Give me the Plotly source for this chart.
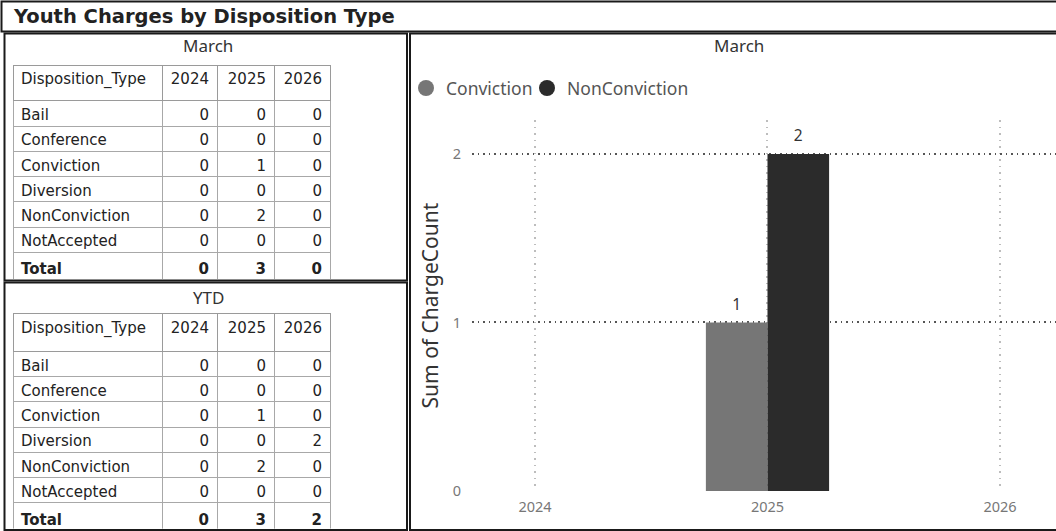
import plotly.graph_objects as go

# ---------------- data ----------------
disposition_types = ["Bail", "Conference", "Conviction", "Diversion", "NonConviction", "NotAccepted"]
years = ["2024", "2025", "2026"]

march_2024 = [0, 0, 0, 0, 0, 0]
march_2025 = [0, 0, 1, 0, 2, 0]
march_2026 = [0, 0, 0, 0, 0, 0]

ytd_2024 = [0, 0, 0, 0, 0, 0]
ytd_2025 = [0, 0, 1, 0, 2, 0]
ytd_2026 = [0, 0, 0, 2, 0, 0]

chart_series = ["Conviction", "NonConviction"]
chart_colors = ["#767676", "#2b2b2b"]

# ---------------- geometry helpers ----------------
W, H = 1056, 531
H_FIG = 541
S = H_FIG / H
def px(x):
    return x / W
def py(y):
    return 1 - y / H

TABLE_FONT = "DejaVu Sans"
CHART_FONT = "Noto Sans"

fig = go.Figure()

def add_table(cols, y_top, y_bottom, header_h):
    header_vals = ["Disposition_Type"] + years
    first = disposition_types + ["<b>Total</b>"]
    cells = [first]
    for c in cols:
        cells.append([str(v) for v in c] + ["<b>%d</b>" % sum(c)])
    fig.add_trace(go.Table(
        domain=dict(x=[px(13), px(330)], y=[py(y_bottom), py(y_top)]),
        columnwidth=[149, 55, 57, 56],
        header=dict(values=header_vals, height=header_h * S,
                    align=["left", "right", "right", "right"],
                    fill_color="white", line=dict(color="#9a9a9a", width=1),
                    font=dict(family=TABLE_FONT, size=15, color="#222222")),
        cells=dict(values=cells, height=24.8 * S,
                   align=["left", "right", "right", "right"],
                   fill_color="white", line=dict(color="#a8a8a8", width=1),
                   font=dict(family=TABLE_FONT, size=15, color="#222222")),
    ))

add_table([march_2024, march_2025, march_2026], 65, 279, 35)
add_table([ytd_2024, ytd_2025, ytd_2026], 313, 528.5, 37)

# ---------------- bar chart (March) ----------------
conv_idx = disposition_types.index("Conviction")
nonconv_idx = disposition_types.index("NonConviction")
march_cols = [march_2024, march_2025, march_2026]
series_vals = {
    "Conviction": [c[conv_idx] for c in march_cols],
    "NonConviction": [c[nonconv_idx] for c in march_cols],
}

def bar_label(v):
    if not v:
        return ""
    return ("<span style='font-size:15.5px'>%d</span><br>"
            "<span style='color:rgba(0,0,0,0)'>.</span>" % v)

legend_ids = ["legend", "legend2"]
for name, color in zip(chart_series, chart_colors):
    vals = series_vals[name]
    fig.add_trace(go.Bar(
        x=years, y=vals, name=name, marker=dict(color=color, line=dict(width=0)),
        text=[bar_label(v) for v in vals], textposition="outside",
        textfont=dict(family=CHART_FONT, size=6, color="#333333"),
        cliponaxis=False, showlegend=False, hoverinfo="skip",
    ))
# legend entries as circles (one legend box per entry for Power BI-like spacing)
for name, color, lid in zip(chart_series, chart_colors, legend_ids):
    fig.add_trace(go.Scatter(
        x=[None], y=[None], mode="markers", name=name, legend=lid,
        marker=dict(color=color, size=16, symbol="circle"), showlegend=True,
    ))

legend_style = dict(orientation="h", xanchor="left", yanchor="top",
                    font=dict(family=CHART_FONT, size=17.5, color="#555555"),
                    itemwidth=30, bgcolor="rgba(0,0,0,0)")

fig.update_layout(
    width=W, height=H_FIG, autosize=False, margin=dict(l=0, r=0, t=0, b=0),
    paper_bgcolor="white", plot_bgcolor="white",
    barmode="group", bargap=0.47, bargroupgap=0,
    showlegend=True,
    legend=dict(x=px(406), y=py(70), **legend_style),
    legend2=dict(x=px(527), y=py(70), **legend_style),
    xaxis=dict(domain=[px(472), 1.0], type="category", categoryorder="array",
               categoryarray=years, range=[-0.271, 2.241],
               showgrid=True, gridcolor="#bdbdbd", griddash="1.5px,5px", gridwidth=1.5,
               zeroline=False, showline=False, ticks="",
               tickfont=dict(family=CHART_FONT, size=14.5, color="#777777"),
               ticklabelstandoff=6),
    yaxis=dict(domain=[py(490), py(120)], range=[0, 2.2], dtick=1, tick0=0,
               showgrid=True, gridcolor="#555555", griddash="1.5px,4px", gridwidth=1.5,
               zeroline=False, showline=False, ticks="",
               tickfont=dict(family=CHART_FONT, size=14.5, color="#777777"),
               ticklabelstandoff=10,
               title=dict(text="Sum of ChargeCount", standoff=8,
                          font=dict(family=CHART_FONT, size=21, color="#333333"))),
)

# ---------------- text ----------------
fig.add_annotation(x=px(11), y=py(16), xref="paper", yref="paper", xanchor="left", yanchor="middle",
                   text="<b>Youth Charges by Disposition Type</b>", showarrow=False,
                   font=dict(family=TABLE_FONT, size=19.5, color="#222222"))
fig.add_annotation(x=px(208), y=py(45), xref="paper", yref="paper", xanchor="center", yanchor="middle",
                   text="March", showarrow=False, font=dict(family=CHART_FONT, size=17, color="#333333"))
fig.add_annotation(x=px(208), y=py(297), xref="paper", yref="paper", xanchor="center", yanchor="middle",
                   text="YTD", showarrow=False, font=dict(family=CHART_FONT, size=17, color="#333333"))
fig.add_annotation(x=px(739), y=py(45), xref="paper", yref="paper", xanchor="center", yanchor="middle",
                   text="March", showarrow=False, font=dict(family=CHART_FONT, size=17, color="#333333"))

# ---------------- panel frames ----------------
def frame(x0, y0, x1, y1):
    fig.add_shape(type="rect", xref="paper", yref="paper",
                  x0=px(x0), y0=py(y1), x1=px(x1), y1=py(y0),
                  line=dict(color="#1a1a1a", width=2), fillcolor="rgba(0,0,0,0)", layer="above")

frame(1.5, 1.5, 1070, 31.5)
frame(4.5, 33.5, 407, 280)
frame(4.5, 282, 407, 529)
frame(410, 33.5, 1070, 529)

fig.write_html("out.html",
               config={"displayModeBar": False, "responsive": False},
               post_script="document.body.style.margin='0px';document.body.style.overflow='hidden';")
